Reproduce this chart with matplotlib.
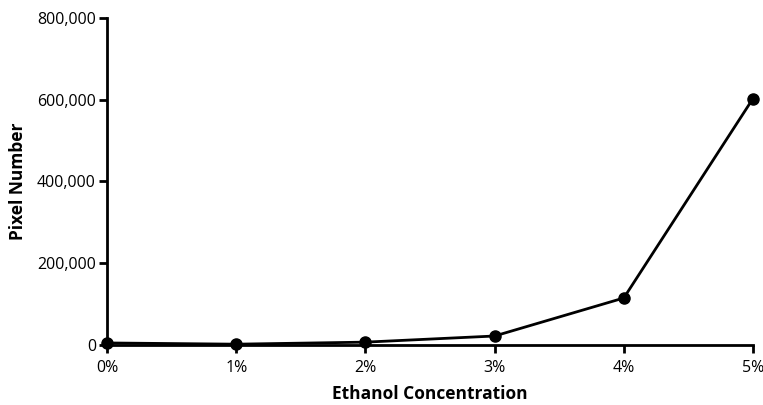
import matplotlib
matplotlib.use("Agg")
import matplotlib.pyplot as plt
from matplotlib.ticker import FuncFormatter

categories = ["0%", "1%", "2%", "3%", "4%", "5%"]
pixel_number = [5000, 2000, 7000, 22000, 115000, 603000]
y_ticks = [0, 200000, 400000, 600000, 800000]

plt.rcParams['font.family'] = ['Open Sans', 'DejaVu Sans']

fig = plt.figure(figsize=(7.63, 4.05), dpi=100)
ax = fig.add_axes([107/763, 60/405, (753-107)/763, (345-18)/405])

x = list(range(len(categories)))
ax.plot(x, pixel_number, color='black', linewidth=2, marker='o', markersize=8, clip_on=False, zorder=3)

ax.set_xlim(0, 5)
ax.set_ylim(0, 800000)
ax.set_xticks(x)
ax.set_xticklabels(categories)
ax.set_yticks(y_ticks)
ax.yaxis.set_major_formatter(FuncFormatter(lambda v, p: f"{int(v):,}"))

for s in ['top', 'right']:
    ax.spines[s].set_visible(False)
for s in ['left', 'bottom']:
    ax.spines[s].set_linewidth(2)
ax.tick_params(axis='both', width=2, length=6, labelsize=11.5, direction='out', color='black')
ax.tick_params(axis='x', pad=5)
ax.tick_params(axis='y', pad=2)

ax.set_xlabel("Ethanol Concentration", fontsize=12.5, fontweight='bold', labelpad=6)
ax.set_ylabel("Pixel Number", fontsize=12.5, fontweight='bold', labelpad=7)

fig.savefig("out.png", dpi=100)
